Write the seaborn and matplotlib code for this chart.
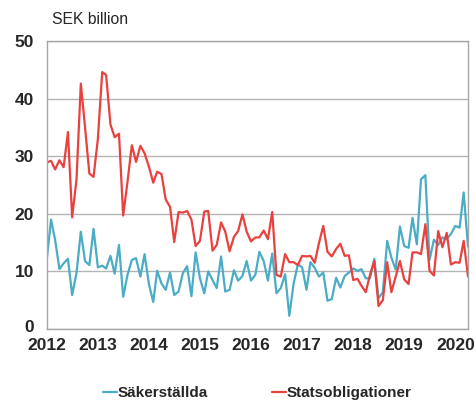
import matplotlib
matplotlib.use("Agg")
import matplotlib.pyplot as plt
import matplotlib.dates as mdates
import matplotlib.transforms as mtransforms
import seaborn as sns
import pandas as pd

# Monthly data, Jan 2012 - Apr 2020 (SEK billion)
months = pd.date_range("2012-01-01", "2020-04-01", freq="MS")

sakerstallda = [
    12.0, 19.0, 15.5, 10.4, 11.4, 12.2, 5.9, 9.7, 16.9, 11.8, 11.1, 17.4,
    10.7, 11.0, 10.5, 12.7, 9.6, 14.6, 5.6, 9.4, 12.0, 12.3, 9.1, 13.0,
    7.8, 4.7, 10.1, 7.9, 6.8, 9.8, 5.9, 6.5, 9.7, 10.9, 5.7, 13.3,
    8.8, 6.2, 10.0, 8.5, 7.1, 12.6, 6.5, 6.8, 10.2, 8.4, 9.2, 11.8,
    8.4, 9.4, 13.4, 11.8, 8.4, 13.1, 6.2, 7.1, 9.5, 2.3, 7.9, 11.2,
    10.7, 6.8, 11.6, 10.6, 9.1, 9.8, 4.9, 5.2, 8.9, 7.2, 9.2, 9.8,
    10.5, 10.1, 10.4, 8.8, 8.8, 12.2, 5.3, 6.4, 15.3, 12.4, 10.3, 17.8,
    14.4, 14.1, 19.3, 14.7, 26.0, 26.7, 12.0, 15.5, 14.6, 15.9, 15.6, 16.5,
    17.9, 17.6, 23.7, 14.3,
]

statsobligationer = [
    28.9, 29.2, 27.7, 29.3, 28.1, 34.2, 19.4, 25.9, 42.6, 35.1, 27.0, 26.4,
    33.0, 44.6, 44.1, 35.5, 33.3, 33.9, 19.7, 25.6, 31.9, 29.0, 31.8, 30.5,
    28.2, 25.4, 27.3, 26.9, 22.5, 21.2, 15.1, 20.3, 20.2, 20.5, 19.0, 14.4,
    15.3, 20.4, 20.5, 13.6, 14.6, 18.5, 16.9, 13.5, 16.0, 17.0, 19.9, 16.9,
    15.2, 15.9, 15.9, 17.1, 15.6, 20.3, 9.4, 9.1, 13.0, 11.6, 11.6, 11.1,
    12.7, 12.6, 12.7, 11.5, 14.9, 17.9, 13.4, 12.6, 13.9, 14.8, 12.7, 12.8,
    8.5, 8.7, 7.5, 6.4, 9.4, 11.8, 4.0, 5.0, 11.6, 6.4, 9.1, 11.8,
    8.6, 7.8, 13.3, 13.3, 13.0, 18.2, 10.1, 9.3, 17.0, 14.2, 16.7, 11.2,
    11.6, 11.5, 15.3, 9.1,
]

df = pd.DataFrame({
    "Månad": list(months) * 2,
    "Värde": sakerstallda + statsobligationer,
    "Serie": ["Säkerställda"] * len(months) + ["Statsobligationer"] * len(months),
})

sns.set_style("white")
plt.rcParams["font.family"] = ["Liberation Sans", "DejaVu Sans"]

fig = plt.figure(figsize=(4.77, 4.03), dpi=100)
ax = fig.add_axes([46.7 / 477, 1 - 329 / 403, (468 - 46.7) / 477, (329 - 41) / 403])

sns.lineplot(data=df, x="Månad", y="Värde", hue="Serie",
             palette={"Säkerställda": "#4bacc6", "Statsobligationer": "#e8413e"},
             linewidth=1.6, ax=ax, legend=True)

ax.set_xlim(months[0], months[-1])
ax.set_ylim(0, 50)
ax.set_yticks([0, 10, 20, 30, 40, 50])
ax.xaxis.set_major_locator(mdates.YearLocator())
ax.xaxis.set_major_formatter(mdates.DateFormatter("%Y"))
ax.grid(axis="y", color="#b4b4b4", linewidth=1)
ax.set_axisbelow(True)
for s in ax.spines.values():
    s.set_color("#a6a6a6")
    s.set_linewidth(1)
ax.tick_params(axis="x", length=4, color="#a6a6a6", pad=2.5, labelsize=12.5)
ax.tick_params(axis="y", length=0, pad=9, labelsize=12.5)
for lab in ax.get_xticklabels() + ax.get_yticklabels():
    lab.set_fontweight("bold")
# nudge the "0" up a few pixels so it clears the first year label
zero = ax.get_yticklabels()[0]
zero.set_transform(zero.get_transform() + mtransforms.ScaledTranslation(0, 3 / 100, fig.dpi_scale_trans))
ax.set_xlabel("")
ax.set_ylabel("")

fig.text(52 / 477, 1 - 20 / 403, "SEK billion", fontsize=11.3, va="center", ha="left")

handles, labels = ax.get_legend_handles_labels()
ax.legend(handles=handles, labels=labels,
          loc="center", bbox_to_anchor=(257 / 477, 1 - 393 / 403), bbox_transform=fig.transFigure,
          ncol=2, frameon=False, handlelength=0.9, handletextpad=0.05, columnspacing=4.2,
          prop={"weight": "bold", "size": 11})

fig.savefig("out.png", dpi=100)
